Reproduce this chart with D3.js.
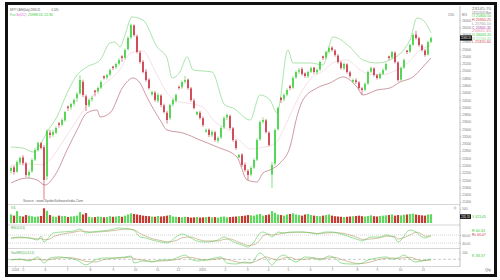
<!DOCTYPE html>
<html>
<head>
<meta charset="utf-8">
<script src="https://d3js.org/d3.v7.min.js"></script>
<style>
body { margin: 0; background: #fff; }
svg { display: block; font-family: "Liberation Sans", "DejaVu Sans", sans-serif; }
</style>
</head>
<body>
<div id="main"></div>
<script>
const ctx = {
    w: 500,
    h: 280,
    left: 8,
    right: 460,
    UP: "#33cf33",
    DOWN: "#c9283a"
};

// candles [open, high, low, close], roughly one every 3 sessions
const candles = [
    [22250,22380,22180,22330],[22350,22400,22150,22220],[22230,22540,22200,22495],[22480,22650,22420,22605],
    [22620,22680,22400,22468],[22450,22500,22080,22138],[22130,22280,22050,22220],[22240,22600,22200,22550],
    [22560,22880,22520,22825],[22820,23060,22780,23018],[23010,23050,22840,22880],[22900,22960,21460,22000],
    [22100,23400,22000,23350],[23300,23380,23150,23238],[23240,23380,23180,23320],[23300,23480,23260,23430],
    [23560,23600,23440,23513],[23520,23700,23480,23650],[23640,23900,23600,23870],[24020,24050,23900,23980],
    [24000,24120,23930,24090],[24100,24250,24040,24200],[24250,24420,24150,24365],[24380,24880,24350,24750],
    [24700,24760,24280,24338],[24300,24350,23900,24063],[24050,24250,24000,24200],[24220,24320,24150,24255],
    [24460,24480,24300,24420],[24440,24580,24380,24530],[24540,24740,24500,24695],[24850,24880,24760,24805],
    [24820,24930,24760,24888],[24900,25070,24850,25025],[25120,25140,25020,25080],[25100,25230,25050,25190],
    [25200,25350,25150,25300],[25400,25430,25250,25355],[25360,25620,25320,25575],[25600,25950,25560,25905],
    [25920,26300,25880,26263],[26250,26280,25940,25988],[25950,26000,25480,25520],[25500,25560,25200,25245],
    [25250,25300,24930,24970],[24980,25050,24700,24750],[24760,24800,24480,24530],[24350,24460,24320,24420],
    [24400,24450,24150,24200],[24180,24400,24120,24338],[24320,24360,24000,24063],[24050,24100,23830,23870],
    [23850,23900,23550,23650],[23700,24100,23650,24063],[24080,24250,24020,24200],[24180,24380,24120,24338],
    [24560,24600,24480,24530],[24550,24740,24500,24695],[24700,24860,24650,24750],[24760,24790,24480,24530],
    [24520,24560,24150,24200],[24180,24240,23940,23980],[23800,23900,23780,23870],[23850,23900,23660,23705],
    [23700,23750,23460,23513],[23330,23420,23300,23375],[23380,23420,23180,23238],[23230,23380,23180,23320],
    [23310,23350,23050,23100],[23080,23200,23020,23155],[23170,23480,23130,23430],[23450,23750,23400,23705],
    [23720,23830,23650,23788],[23760,23800,23380,23430],[23420,23460,23050,23100],[23080,23120,22830,22880],
    [22620,22720,22600,22688],[22700,22740,22360,22413],[22420,22480,22220,22275],[22250,22300,22000,22138],
    [22150,22380,22100,22330],[22340,22600,22300,22550],[22560,23150,22520,23100],[23120,23640,23080,23595],
    [23600,23720,23550,23650],[23640,23680,23280,23320],[23300,23340,22920,22963],[22150,22500,21780,22413],
    [22450,23420,22400,23375],[23400,24020,23360,23980],[24260,24290,24120,24200],[24220,24380,24160,24338],
    [24350,24520,24300,24475],[24580,24620,24470,24530],[24540,24850,24500,24805],[24820,25010,24780,24970],
    [24980,25080,24920,25025],[25050,25100,24870,24915],[24930,24960,24810,24860],[24850,25010,24800,24970],
    [24980,25120,24940,25080],[25090,25110,24920,24970],[24960,25070,24900,25025],[25040,25290,25000,25245],
    [25400,25420,25300,25355],[25370,25560,25320,25520],[25530,25670,25480,25630],[25640,25680,25530,25575],
    [25560,25600,25390,25438],[25420,25460,25200,25245],[25230,25270,25030,25080],[25070,25230,25020,25190],
    [25180,25210,24920,24970],[24960,25000,24810,24860],[24700,24790,24680,24750],[24740,24800,24640,24695],
    [24680,24720,24480,24530],[24520,24560,24340,24475],[24480,24690,24440,24640],[24650,25010,24620,24970],
    [24980,25120,24940,25080],[25070,25100,24840,24888],[24880,24920,24760,24805],[24800,24960,24770,24915],
    [24920,25070,24880,25025],[25040,25230,25000,25190],[25400,25420,25300,25355],[25370,25560,25330,25520],
    [25500,25540,25200,25245],[25230,25270,24700,24750],[24760,25120,24720,25080],[25090,25340,25050,25300],
    [25560,25580,25460,25520],[25530,25750,25490,25713],[25720,26030,25690,25988],[26000,26100,25860,25905],
    [25900,25940,25660,25713],[25700,25740,25530,25575],[25560,25600,25390,25438],[25450,25830,25420,25795],
    [25800,25950,25760,25905]
];

const volumes = [
    300,260,420,250,230,280,260,240,220,230,250,520,430,280,230,220,260,240,250,210,
    230,240,260,380,300,350,220,200,210,230,220,200,210,240,220,230,250,220,260,300,
    340,320,300,280,260,250,240,230,220,250,230,240,260,280,230,220,210,200,220,210,
    190,200,210,190,200,210,220,200,210,190,220,230,200,210,220,230,240,250,260,280,
    270,260,300,320,260,280,300,420,360,300,280,260,300,320,340,300,280,260,300,320,
    280,260,250,240,260,280,300,260,240,230,220,210,220,230,240,250,260,240,230,250,
    270,240,230,250,260,270,280,300,260,280,270,290,300,320,330,300,280,270,260,300,310
];

// bands: [candle index, price]
const upperBand = [
    [0,22908],[4,22880],[7.3,22770],[9.7,22963],[12,23320],[15.3,23733],[18.7,24393],[22,24888],
    [25.3,25108],[29.7,25300],[33,25768],[34.7,25795],[36.3,25658],[38,25988],[40.3,26483],[44,26400],
    [48.7,25658],[52,25355],[53.7,24805],[56.3,24970],[58.7,25383],[60.7,25025],[67,24970],[71.3,24063],
    [74,23980],[79.7,23650],[83,24338],[86.3,24200],[88.7,23843],[92.3,25575],[94,25218],[99.7,25218],
    [104,25163],[107.3,25933],[113,25658],[117.3,25300],[122,25218],[126.3,25300],[133,25850],
    [135.3,26455],[137.3,26400],[140,26043]
];
const lowerBand = [
    [0,21918],[5.3,22055],[8.7,22000],[11.3,21863],[14.7,22138],[18.7,22825],[22,23375],[25.3,23843],
    [28.7,23925],[29.7,23733],[33,23843],[37.3,24558],[40.7,24805],[43,24668],[45.3,24283],[49.7,23650],
    [52,23375],[57.3,23293],[63,23100],[68.7,22908],[75.3,22633],[78.7,22000],[82,21945],[84,22193],
    [86.3,22275],[89.7,22468],[93,22908],[95.3,23733],[97.3,24200],[102,24530],[106.3,24668],[110.7,24833],
    [115.3,24558],[117.3,24338],[122,24475],[126.3,24530],[129.7,24695],[134,24833],[137.3,25108],[140,25355]
];
const midBand = [
    [0,22400],[5,22450],[10,22420],[13,22550],[16,22900],[20,23400],[24,23900],[28,24400],[32,24700],
    [36,25000],[40,25500],[44,25550],[48,25000],[52,24400],[56,24150],[60,24100],[64,24000],[68,23600],
    [72,23400],[76,23100],[80,22850],[84,22900],[88,23000],[92,23600],[96,24300],[100,24800],[104,25000],
    [108,25250],[112,25300],[116,25050],[120,24900],[124,24900],[128,25000],[132,25200],[136,25550],[140,25700]
];

const rsiLine = [
    [0,52.5],[3,55],[6,52.5],[9,47.5],[10,57],[11,42.5],[13,57.5],[14,65],[17,67.5],[21,70],[23,75],
    [25,65],[27,67.5],[30,70],[33,72.5],[36,77.5],[39,75],[41,72],[43,55],[45,52.5],[47,47.5],[50,42.5],
    [52,40],[55,55],[57,62.5],[60,52.5],[62,45],[65,42.5],[69,47.5],[71,55],[73,47.5],[75,40],[77,35],
    [79,30],[81,42.5],[83,65],[84,67.5],[86,60],[87,55],[89,67.5],[91,65],[93,67.5],[95,67.5],[97,67.5],
    [100,65],[102,62.5],[105,67.5],[107,67.5],[110,62.5],[113,55],[116,47.5],[117,45],[120,55],[123,55],
    [125,60],[128,52.5],[129,42.5],[133,72.5],[135,67.5],[137,55],[138,52.5],[140,60]
];
const rsiSignal = [
    [0,52],[3,53],[6,53],[9,50],[10,51],[11,48],[13,50],[14,55],[17,62],[21,67],[23,70],[25,69],[27,67],
    [30,68],[33,70],[36,73],[39,75],[41,73],[43,64],[45,57],[47,51],[50,46],[52,43],[55,46],[57,53],[60,55],
    [62,50],[65,45],[69,45],[71,49],[73,50],[75,45],[77,39],[79,34],[81,36],[83,48],[84,58],[86,62],[87,60],
    [89,62],[91,65],[93,66],[95,67],[97,67],[100,66],[102,64],[105,65],[107,66],[110,65],[113,60],[116,52],
    [117,49],[120,50],[123,53],[125,57],[128,56],[129,50],[133,60],[135,67],[137,62],[138,57],[140,57]
];

const stochK = [
    [0,45],[3,52],[6,38],[9,68],[11,22],[13,60],[16,68],[19,60],[22,45],[25,8],[28,45],[31,60],[34,60],
    [38,68],[40,75],[41,22],[44,38],[47,30],[50,45],[53,45],[56,68],[58,82],[60,52],[62,38],[65,45],[68,60],
    [70,68],[72,22],[75,15],[78,30],[80,22],[83,98],[85,60],[87,8],[89,60],[91,82],[93,52],[95,30],[98,68],
    [101,60],[103,45],[106,75],[108,60],[110,22],[113,15],[116,15],[119,45],[122,60],[125,68],[127,52],
    [129,60],[131,82],[133,52],[135,30],[137,38],[140,52]
];
const stochD = [
    [0,48],[3,48],[6,45],[9,52],[11,45],[13,48],[16,60],[19,63],[22,55],[25,35],[28,30],[31,48],[34,58],
    [38,62],[40,68],[41,55],[44,45],[47,35],[50,38],[53,42],[56,52],[58,65],[60,65],[62,55],[65,45],[68,50],
    [70,58],[72,50],[75,32],[78,22],[80,24],[83,50],[85,68],[87,55],[89,45],[91,60],[93,65],[95,50],[98,50],
    [101,60],[103,55],[106,60],[108,65],[110,50],[113,30],[116,18],[119,25],[122,45],[125,58],[127,60],
    [129,57],[131,62],[133,65],[135,52],[137,40],[140,45]
];

const priceTicks = [21400,21600,21800,22000,22200,22400,22600,22800,23000,23200,23400,23600,23800,
    24000,24200,24400,24600,24800,25000,25200,25400,25600,25800,26000,26200,26400];
const monthTicks = [1.3,4,11.3,18.7,26.3,34,41.3,48.7,55.7,63.7,71.3,78.7,85.7,92.3,99.7,107,115.3,122,129.7,137.3];
const monthLabels = ["2024","5","6","7","8","9","10","11","12","2025","2","3","4","5","6","7","8","9","10","11"];

const legendRight = [
    ["23145.70","#777"],["24/11/2025 Mon","#777"],["O 25800.50","#3c3"],["H 25950.25","#c44"],
    ["L 25760.10","#999"],["C 25905.35","#a4a"],["25905.35","#e8a"],["U 26043.20","#3c3"],
    ["M 25700.40","#9d9"],["L 25355.60","#c45"]
];

function txt(g, x, y, s, color, size, len) {
    const t = g.append("text").attr("x", x).attr("y", y).text(s)
        .attr("fill", color).attr("font-size", size);
    if (len) t.attr("textLength", len).attr("lengthAdjust", "spacingAndGlyphs");
    return t;
}

function createViz() {
    const svg = d3.select("#main").append("svg")
        .attr("width", ctx.w).attr("height", ctx.h);

    const x = d3.scaleLinear().domain([-1, 149.67]).range([ctx.left, ctx.right]);
    const yP = d3.scaleLinear().domain([21450, 26730]).range([200, 8]);
    const yV = d3.scaleLinear().domain([0, 600]).range([223, 206]);
    const yR = d3.scaleLinear().domain([27.5, 82.5]).range([248, 226]);
    const yS = d3.scaleLinear().domain([0, 120]).range([266, 250]);

    // panel separators
    const bkg = svg.append("g").attr("id", "bkgG");
    [204.5, 225, 248.5, 266.5].forEach(yy => {
        bkg.append("line").attr("x1", ctx.left).attr("x2", ctx.right)
            .attr("y1", yy).attr("y2", yy).attr("stroke", "#b8b8b8").attr("stroke-width", 0.6);
    });
    bkg.append("line").attr("x1", ctx.right).attr("x2", ctx.right).attr("y1", 6).attr("y2", 267)
        .attr("stroke", "#999").attr("stroke-width", 0.6);
    // guide lines in rsi / stoch
    [40, 60].forEach(v => bkg.append("line").attr("x1", ctx.left).attr("x2", ctx.right)
        .attr("y1", yR(v)).attr("y2", yR(v)).attr("stroke", "#aaa").attr("stroke-width", 0.5)
        .attr("stroke-dasharray", "1,1"));
    bkg.append("line").attr("x1", ctx.left).attr("x2", ctx.right)
        .attr("y1", yS(50)).attr("y2", yS(50)).attr("stroke", "#999").attr("stroke-width", 0.5)
        .attr("stroke-dasharray", "3,2");

    // bands
    const bandLine = d3.line().x(d => x(d[0])).y(d => yP(d[1])).curve(d3.curveMonotoneX);
    svg.append("path").attr("d", bandLine(midBand)).attr("fill", "none")
        .attr("stroke", "#f0cbd5").attr("stroke-width", 0.6);
    svg.append("path").attr("d", bandLine(upperBand)).attr("fill", "none")
        .attr("stroke", "#86d886").attr("stroke-width", 0.7);
    svg.append("path").attr("d", bandLine(lowerBand)).attr("fill", "none")
        .attr("stroke", "#ad5565").attr("stroke-width", 0.6);

    // candles
    const cg = svg.append("g");
    const col = d => d[3] >= d[0] ? ctx.UP : ctx.DOWN;
    cg.selectAll("line").data(candles).enter().append("line")
        .attr("x1", (d, i) => x(i)).attr("x2", (d, i) => x(i))
        .attr("y1", d => yP(d[1])).attr("y2", d => yP(d[2]))
        .attr("stroke", col).attr("stroke-width", 0.6);
    cg.selectAll("rect").data(candles).enter().append("rect")
        .attr("x", (d, i) => x(i) - 0.75).attr("width", 1.5)
        .attr("y", d => yP(Math.max(d[0], d[3])))
        .attr("height", d => Math.max(0.6, Math.abs(yP(d[0]) - yP(d[3]))))
        .attr("fill", col);

    // volume
    svg.append("g").selectAll("rect").data(volumes).enter().append("rect")
        .attr("x", (d, i) => x(i) - 1.1).attr("width", 2.2)
        .attr("y", d => yV(d)).attr("height", d => yV(0) - yV(d))
        .attr("fill", (d, i) => candles[i][3] >= candles[i][0] ? "#5fd85f" : "#c53a32");

    // rsi + stoch
    const rl = d3.line().x(d => x(d[0])).y(d => yR(d[1])).curve(d3.curveMonotoneX);
    svg.append("path").attr("d", rl(rsiSignal)).attr("fill", "none").attr("stroke", "#b79566").attr("stroke-width", 0.6);
    svg.append("path").attr("d", rl(rsiLine)).attr("fill", "none").attr("stroke", "#55cc55").attr("stroke-width", 0.6);
    const sl = d3.line().x(d => x(d[0])).y(d => yS(d[1])).curve(d3.curveMonotoneX);
    svg.append("path").attr("d", sl(stochD)).attr("fill", "none").attr("stroke", "#b79566").attr("stroke-width", 0.6);
    svg.append("path").attr("d", sl(stochK)).attr("fill", "none").attr("stroke", "#55cc55").attr("stroke-width", 0.6);

    // axes
    svg.append("g").attr("transform", `translate(${ctx.right},0)`)
        .call(d3.axisRight(yP).tickValues(priceTicks).tickSize(1.2).tickPadding(1).tickFormat(d3.format("d")));
    svg.append("g").attr("transform", `translate(${ctx.right},0)`)
        .call(d3.axisRight(yV).tickValues([500]).tickSize(1.2).tickPadding(1).tickFormat(d3.format("d")));
    svg.append("g").attr("transform", `translate(${ctx.right},0)`)
        .call(d3.axisRight(yR).tickValues([40, 60]).tickSize(1.2).tickPadding(1).tickFormat(d3.format(".2f")));
    svg.append("g").attr("transform", `translate(${ctx.right},0)`)
        .call(d3.axisRight(yS).tickValues([100]).tickSize(1.2).tickPadding(1).tickFormat(d3.format("d")));
    svg.append("g").attr("transform", "translate(0,266.5)")
        .call(d3.axisBottom(x).tickValues(monthTicks).tickSize(1.2).tickPadding(1)
            .tickFormat((d, i) => monthLabels[i]));
    svg.selectAll(".domain").remove();
    svg.selectAll(".tick line").attr("stroke", "#999").attr("stroke-width", 0.5);
    svg.selectAll(".tick text").attr("font-size", 3.2).attr("fill", "#777")
        .attr("font-family", "Liberation Sans, sans-serif");

    // last price box
    svg.append("rect").attr("x", ctx.right).attr("y", yP(25905) - 2.6).attr("width", 12).attr("height", 5.2).attr("fill", "#111");
    txt(svg, ctx.right + 1, yP(25905) + 1.2, "25905.35", "#fff", 3, 10);
    svg.append("rect").attr("x", ctx.right).attr("y", 214.3).attr("width", 11).attr("height", 4.6).attr("fill", "#111");
    txt(svg, ctx.right + 1, 217.8, "235.70", "#fff", 3, 9);

    // header texts
    txt(svg, 10, 11, "NIFTY CASH(Daily) 25905.35", "#555", 3.2, 30);
    txt(svg, 51.5, 11, "0.14%", "#555", 3.2, 7);
    txt(svg, 10, 15.5, "Price", "#3c3", 3.2, 5.5);
    txt(svg, 16.5, 15.5, "Bol(20,2)", "#d36ad3", 3.2, 10);
    txt(svg, 28, 15.5, "25988.53, 22.80", "#3c3", 3.2, 25);
    txt(svg, 448, 15.5, "1180", "#777", 3, 6);
    txt(svg, 462, 15.5, "BIS", "#777", 3, 5);
    legendRight.forEach((r, i) => txt(svg, 472, 10 + i * 3.7, r[0], r[1], 3, 19));

    txt(svg, 23, 202, "Source : www.SpiderSoftwareIndia.Com", "#666", 3, 60);
    txt(svg, 11, 208.5, "VOL", "#4a4", 3, 5);
    txt(svg, 11, 228.6, "RSI(14,9,3)", "#4a4", 3, 14);
    txt(svg, 11, 253.5, "StochRSI(14,14,3,3)", "#4a4", 3, 23);
    svg.append("circle").attr("cx", 455).attr("cy", 208).attr("r", 1.1)
        .attr("fill", "none").attr("stroke", "#888").attr("stroke-width", 0.4);
    txt(svg, 472, 217.5, "V 423.45", "#3c3", 3, 14);
    txt(svg, 472, 231.5, "R 60.34", "#3c3", 3, 13);
    txt(svg, 472, 235.5, "Rs 60.47", "#c44", 3, 14);
    txt(svg, 472, 256.5, "K 38.37", "#3c3", 3, 13);
    txt(svg, 485, 271, "Qty", "#666", 3, 6);

    // outer black frame
    svg.append("rect").attr("x", 6.5).attr("y", 3.5).attr("width", 489).attr("height", 272)
        .attr("fill", "none").attr("stroke", "#111").attr("stroke-width", 3);
}

createViz();
</script>
</body>
</html>
